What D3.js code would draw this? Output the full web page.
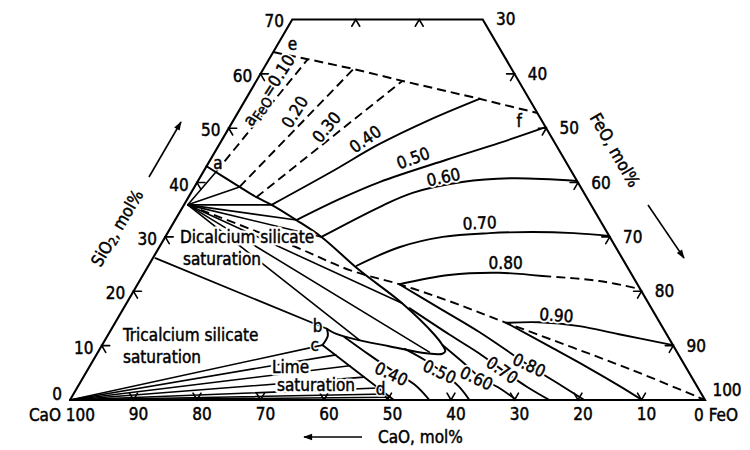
<!DOCTYPE html>
<html><head><meta charset="utf-8">
<script src="https://cdn.jsdelivr.net/npm/d3@7"></script>
<style>
html,body{margin:0;padding:0;background:#fff;}
svg{display:block;}
text{font-family:'DejaVu Sans Condensed','DejaVu Sans',sans-serif;font-stretch:condensed;}
</style></head><body>
<svg id="chart" width="750" height="450"></svg>
<script>
// ===== DATA: compositions as [FeO mol%, SiO2 mol%]  (CaO = 100 - FeO - SiO2) =====
const frameCorners = [[0,0],[100,0],[30,70],[0,70],[0,0]];
const bottomTickCaO = [10,20,30,40,50,60,70,80,90];
const leftTickSiO2  = [10,20,30,40,50,60];
const rightTickFeO  = [40,50,60,70,80,90];
const topTickFeO    = [10,20];
const bottomLabelCaO = [90,80,70,60,50,40,30,20,10];
const leftLabelSiO2  = [10,20,30,40,50,60,70];
const rightLabelFeO  = [30,40,50,60,70,80,90];

// phase boundaries
const boundarySiO2Sat = [[0,64.0],[6.1,62.7],[14.2,60.9],[23.0,58.7],[36.8,55.4],[47.2,52.8]];       // e - f
const boundaryC2S = [[0,43.0],[7.1,39.2],[10.7,37.3],[13.8,35.9],[19.1,33.1],[24.6,30.0],[33.6,23.9],
  [43.4,17.8],[51.4,12.0],[53.6,10.1],[54.6,9.0],[54.4,8.5],[51.8,8.6],[45.3,9.9],[39.2,11.2],[35.5,12.3],[33.9,13.1]]; // a - b
const boundaryC3S  = [[33.9,13.1],[34.7,11.8],[34.7,10.1]];   // b - c
const boundaryLime = [[34.7,10.1],[51.0,0]];                  // c - d
const dividingLine = [[0.6,35.9],[21.6,28.1],[32.1,23.9],[41.2,21.3],[50.6,18.2],[61.6,14.2],[85.8,5.5],[100,0]];

// tie lines
const pointC2S = [0.6,35.9];
const pointC3S = [0.4,26.1];
const pointCaO = [0,0];
const tieEndsC2S  = [[2.0,41.9],[7.1,39.2],[13.8,35.9],[19.1,33.1],[24.6,30.0],[43.4,17.8],[52.2,8.8],[40.1,11.0]];
const tieEndsC3S  = [[33.9,13.1]];
const tieEndsLime = [[34.7,10.1],[37.7,8.3],[40.9,6.3],[44.2,4.2],[47.4,2.2],[49.2,1.1],[50.2,0.5]];

// iso-activity lines of FeO
const iso010 = [[2.0,41.9],[6.1,62.7]];
const iso020 = [[7.1,39.2],[14.2,60.9]];
const iso030 = [[10.7,37.3],[23.0,58.7]];
const iso040Upper = [[13.8,35.9],[20.0,41.8],[25.2,47.1],[30.8,51.5],[36.8,55.4]];
const iso050Upper = [[19.1,33.1],[24.0,37.0],[28.7,40.1],[37.2,44.2],[44.0,47.3],[49.8,50.2]];
const iso060Upper = [[24.6,30.0],[31.0,35.5],[34.9,38.1],[41.7,40.1],[49.2,40.8],[59.7,40.3]];
const iso070Upper = [[32.8,24.7],[37.8,28.1],[43.7,30.0],[50.7,30.7],[57.3,30.9],[64.0,30.7],[69.8,30.2]];
const iso080UpperSolid  = [[41.2,21.3],[48.2,23.0],[55.9,23.4],[63.0,22.8]];
const iso080UpperDashed = [[63.0,22.8],[72.4,21.9],[79.6,20.4]];
const iso090Upper = [[61.6,14.2],[66.7,14.3],[73.4,13.6],[80.4,12.1],[89.9,10.1]];
const iso040Lower = [[37.4,11.6],[43.0,8.3],[47.9,5.5],[52.9,2.8],[56.6,0]];
const iso050Lower = [[48.0,9.4],[52.1,7.4],[56.6,4.8],[60.1,2.4],[62.9,0]];
const iso060Lower = [[53.6,10.1],[59.2,6.4],[62.4,4.2],[66.5,2.2],[70.3,0]];
const iso070Lower = [[45.0,16.9],[53.8,12.0],[60.1,8.6],[65.7,5.3],[70.8,2.4],[75.5,0]];
const iso080Lower = [[41.2,21.3],[49.7,16.9],[58.2,12.5],[69.2,6.3],[75.6,2.9],[81.0,0]];
const iso090Lower = [[61.6,14.2],[70.5,9.9],[78.3,6.1],[85.2,2.6],[90.1,0]];

// iso-line labels
const isoLabelText = ["0.20","0.30","0.40","0.50","0.60","0.70","0.80","0.90","0.40","0.50","0.60","0.70","0.80"];
const isoLabelAt   = [[8.9,53.0],[15.3,50.2],[22.5,48.0],[31.8,44.5],[38.3,41.0],[48.2,32.6],[56.0,25.2],[68.8,15.6],
                      [48.2,4.8],[55.6,5.2],[62.0,4.0],[65.3,5.5],[69.1,6.4]];
const pointLetters   = ["e","f","a","b","c","d"];
const pointLettersAt = [[2.3,65.5],[45.1,51.3],[1.5,43.6],[32.2,13.6],[33.5,10.1],[47.9,2.0]];

// ===== DRAWING =====
const svg = d3.select("#chart");
const xS = d3.scaleLinear().domain([0,100]).range([70,705]);
const yS = d3.scaleLinear().domain([0,100]).range([400,-143.6]);
const P = d => [xS(d[0] + d[1]/2), yS(d[1])];
const straight = d3.line().x(d=>P(d)[0]).y(d=>P(d)[1]);
const smooth = d3.line().x(d=>P(d)[0]).y(d=>P(d)[1]).curve(d3.curveCatmullRom.alpha(0.5));

const gLines = svg.append("g").attr("fill","none").attr("stroke","#000").attr("stroke-linecap","round");
function draw(pts, opt={}) {
  gLines.append("path")
    .attr("d", (opt.curve ? smooth : straight)(pts))
    .attr("stroke-width", opt.w || 1.9)
    .attr("stroke-dasharray", opt.dash ? "9,5" : null)
    .attr("stroke-linecap", opt.dash ? "butt" : "round");
}

// tie lines
tieEndsC2S.forEach(e => draw([pointC2S, e], {w:1.6}));
tieEndsC3S.forEach(e => draw([pointC3S, e], {w:1.7}));
tieEndsLime.forEach(e => draw([pointCaO, e], {w:1.6}));

// boundaries
draw(boundarySiO2Sat, {dash:true, w:2});
draw(boundaryC2S, {curve:true, w:2});
draw(boundaryC3S, {curve:true, w:2});
draw(boundaryLime, {w:1.9});
draw(dividingLine, {dash:true, curve:true, w:1.9});

// iso-activity lines
[iso010, iso020, iso030].forEach(l => draw(l, {dash:true}));
[iso040Upper, iso050Upper, iso060Upper, iso070Upper, iso080UpperSolid, iso090Upper,
 iso040Lower, iso050Lower, iso060Lower, iso070Lower, iso080Lower, iso090Lower].forEach(l => draw(l, {curve:true}));
draw(iso080UpperDashed, {dash:true, curve:true});

// ticks (chevrons along the two grid directions)
const tk = 1.25;
const ticks = [];
bottomTickCaO.forEach(c => { const f = 100 - c; ticks.push([[f,tk],[f,0],[f-tk,tk]]); });
leftTickSiO2.forEach(s => ticks.push([[tk,s],[0,s],[tk,s-tk]]));
rightTickFeO.forEach(f => ticks.push([[f-tk,100-f],[f,100-f],[f,100-f-tk]]));
topTickFeO.forEach(f => ticks.push([[f,70-tk],[f,70],[f+tk,70-tk]]));
ticks.forEach(t => draw(t, {w:1.6}));

// frame
draw(frameCorners, {w:2.1});

// texts
const gT = svg.append("g");
function txt(x, y, s, opt={}) {
  const make = (halo) => {
    const t = gT.append("text").attr("x", x).attr("y", y)
      .attr("font-size", opt.size || 17)
      .attr("text-anchor", opt.anchor || "middle")
      .attr("dominant-baseline", "central");
    if (opt.rot !== undefined) t.attr("transform", `rotate(${opt.rot},${x},${y})`);
    if (halo) t.attr("fill","#fff").attr("stroke","#fff").attr("stroke-width", opt.halo).attr("stroke-linejoin","round");
    else t.attr("fill","#000").attr("stroke","#000").attr("stroke-width",0.45);
    if (opt.parts) {
      opt.parts.forEach(pt => {
        const ts = t.append("tspan").text(pt.t);
        if (pt.size) ts.attr("font-size", pt.size);
        if (pt.dy) ts.attr("dy", pt.dy);
      });
    } else t.text(s);
    return t;
  };
  if (opt.halo) make(true);
  return make(false);
}

// axis numbers
bottomLabelCaO.forEach(c => { const p = P([100-c,0]); txt(p[0]+5, p[1]+14, String(c)); });
txt(62, 415, "CaO 100");
txt(716, 415, "0 FeO");
leftLabelSiO2.forEach(s => { const p = P([0,s]); txt(p[0]-18, p[1]+2, String(s)); });
txt(57, 394, "0");
rightLabelFeO.forEach(f => { const p = P([f,100-f]); txt(p[0]+23, p[1], String(f)); });
{ const p = P([100,0]); txt(p[0]+22, p[1]-10, "100"); }

// axis titles with arrows
const defs = svg.append("defs");
defs.append("marker").attr("id","ah").attr("viewBox","0 0 10 10").attr("refX",9).attr("refY",5)
  .attr("markerWidth",10).attr("markerHeight",9).attr("markerUnits","userSpaceOnUse").attr("orient","auto")
  .append("path").attr("d","M0,1.5 L10,5 L0,8.5 Z").attr("fill","#000");
function arrow(x1,y1,x2,y2){ svg.append("line").attr("x1",x1).attr("y1",y1).attr("x2",x2).attr("y2",y2)
  .attr("stroke","#000").attr("stroke-width",1.6).attr("marker-end","url(#ah)"); }
arrow(362,437,304,437);
txt(378, 437, "CaO, mol%", {anchor:"start"});
arrow(149,177,181,122);
txt(117, 228, "", {rot:-59.5, parts:[{t:"SiO"},{t:"2",size:12,dy:4},{t:", mol%",dy:-4}]});
txt(615, 150, "FeO, mol%", {rot:60});
arrow(648,205,684,258);

// iso labels
const isoRot = [-58,-50,-35,-20,-12,-3,0,4,25,25,25,35,25];
isoLabelText.forEach((s,i) => { const p = P(isoLabelAt[i]); txt(p[0], p[1], s, {rot: isoRot[i], halo:4}); });
{ const p = P([2.8,57.0]);
  txt(p[0], p[1], "", {rot:-57, halo:4, parts:[{t:"a"},{t:"FeO",size:14,dy:5},{t:"=0.10",dy:-5}]}); }

// point letters
pointLetters.forEach((s,i) => { const p = P(pointLettersAt[i]); txt(p[0], p[1], s, {halo:3}); });

// region labels
txt(180, 237, "Dicalcium silicate", {anchor:"start", halo:5});
txt(183, 259, "saturation", {anchor:"start", halo:5});
txt(123, 335, "Tricalcium silicate", {anchor:"start", halo:5});
txt(123, 357, "saturation", {anchor:"start", halo:5});
txt(272, 367, "Lime", {anchor:"start", halo:5});
txt(277, 385, "saturation", {anchor:"start", halo:5});
</script>
</body></html>
